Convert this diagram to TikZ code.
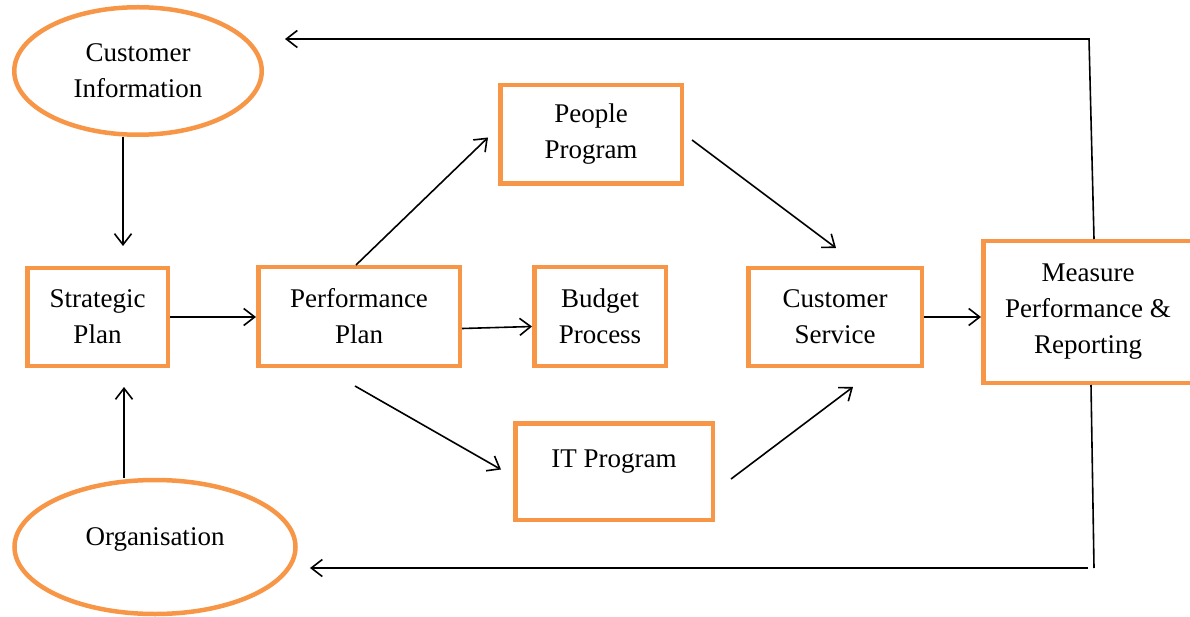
\documentclass[tikz,border=0pt]{standalone}
\usepackage{fontspec}
\setmainfont{Liberation Serif}
\usetikzlibrary{shapes.geometric,arrows.meta}
\definecolor{boxorange}{HTML}{F79646}

\begin{document}
\begin{tikzpicture}[x=1pt,y=-1pt,
    font=\fontsize{27}{36}\selectfont,
    blob/.style={ellipse,draw=boxorange,line width=4.5pt,inner sep=0pt,align=center},
    block/.style={rectangle,draw=boxorange,line width=4.5pt,inner sep=0pt,align=center},
    arr/.style={-{Straight Barb[length=11pt,width=17pt]},line width=1.6pt}]
  \useasboundingbox (0,0) rectangle (1190,617);
  % ellipses on the left
  \node[blob,minimum width=247.5pt,minimum height=127.5pt] (cinfo) at (138,71) {Customer\\Information};
  \node[blob,minimum width=281pt,minimum height=134pt,text height=19pt,text depth=22pt] (org) at (155,547) {Organisation};
  % boxes
  \node[block,minimum width=140.5pt,minimum height=97.5pt] (strat) at (97.5,317) {Strategic\\Plan};
  \node[block,minimum width=201.5pt,minimum height=98.5pt] (perf) at (359,316.5) {Performance\\Plan};
  \node[block,minimum width=131.5pt,minimum height=98.5pt] (budget) at (600,316.5) {Budget\\Process};
  \node[block,minimum width=181.5pt,minimum height=98.5pt] (people) at (591,134.5) {People\\Program};
  \node[block,minimum width=197.5pt,minimum height=96.5pt,text height=19pt,text depth=28pt] (it) at (614,471.5) {IT Program};
  \node[block,minimum width=173.5pt,minimum height=97.5pt] (csrv) at (835,317) {Customer\\Service};
  \node[block,minimum width=209.5pt,minimum height=141.5pt] (meas) at (1088,312) {Measure\\Performance \&\\Reporting};
  % corners of the feedback lines
  \coordinate (topc) at (1089,39);
  \coordinate (topend) at (285,39);
  \coordinate (botc) at (1094,568);
  \coordinate (botstart) at (1088,568);
  \coordinate (botend) at (310,568);
  % arrows
  \draw[arr] ([xshift=-15pt]cinfo.south) -- ([xshift=25.5pt,yshift=20pt]strat.north);
  \draw[arr] ([xshift=-31pt]org.north) -- ([xshift=26.5pt,yshift=-19pt]strat.south);
  \draw[arr] (strat.east) -- (strat.east -| perf.west);
  \draw[arr] ([yshift=-12pt]perf.east) -- ([yshift=-10pt]budget.west);
  \draw[arr] ([xshift=-3pt]perf.north) -- ([xshift=-10pt,yshift=-3pt]people.west);
  \draw[arr] ([xshift=-4pt,yshift=-18pt]perf.south) -- ([xshift=-12pt,yshift=2pt]it.west);
  \draw[arr] ([xshift=8pt,yshift=-5.5pt]people.east) -- ([xshift=1pt,yshift=18pt]csrv.north);
  \draw[arr] ([xshift=16pt,yshift=-7.5pt]it.east) -- ([xshift=18pt,yshift=-19pt]csrv.south);
  \draw[arr] (csrv.east) -- (csrv.east -| meas.west);
  \draw[arr] ([xshift=6pt]meas.north) -- (topc) -- (topend);
  \draw[line width=1.6pt] ([xshift=3pt]meas.south) -- (botc);
  \draw[arr] (botstart) -- (botend);
\end{tikzpicture}
\end{document}
